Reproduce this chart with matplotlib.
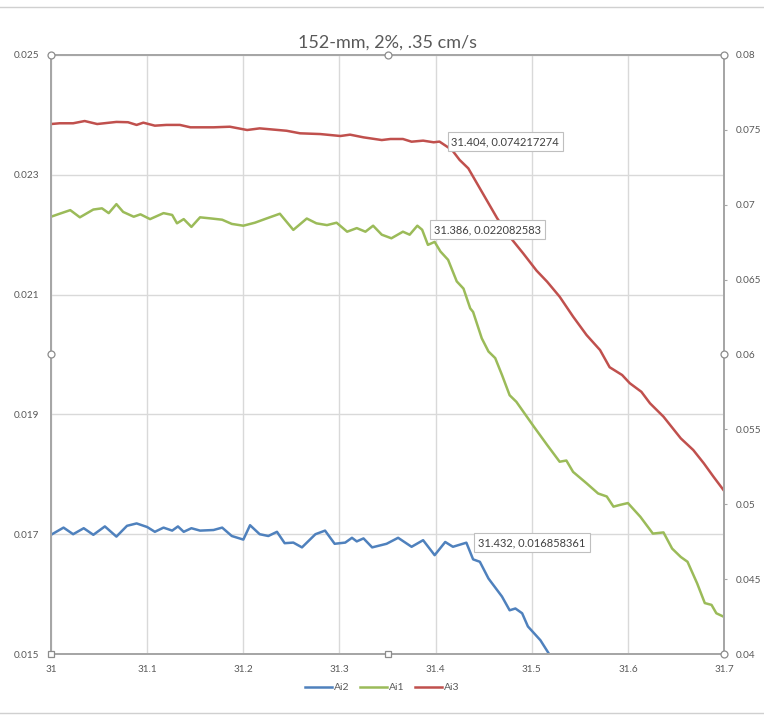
"""Señales Ai1/Ai2/Ai3 frente a posición, ensayo 152-mm, 2 %, .35 cm/s.

Ai1 y Ai2 van al eje izquierdo; Ai3 al eje derecho. Estilo de gráfico de Excel.
"""

import matplotlib

matplotlib.use("Agg")
import matplotlib.pyplot as plt
from matplotlib.lines import Line2D

plt.rcParams["font.family"] = ["Lato", "DejaVu Sans"]

# --- datos -------------------------------------------------------------------
ai2_x = [31.000, 31.013, 31.023, 31.034, 31.044, 31.056, 31.068, 31.079, 31.089,
         31.100, 31.108, 31.117, 31.126, 31.132, 31.138, 31.146, 31.155, 31.169,
         31.178, 31.188, 31.200, 31.207, 31.217, 31.226, 31.235, 31.243, 31.252,
         31.261, 31.275, 31.285, 31.295, 31.306, 31.313, 31.318, 31.325, 31.334,
         31.349, 31.361, 31.375, 31.387, 31.399, 31.410, 31.418, 31.432, 31.439,
         31.446, 31.455, 31.469, 31.477, 31.483, 31.490, 31.496, 31.509, 31.520]
ai2_y = [0.01699, 0.01711, 0.01700, 0.01710, 0.01699, 0.01713, 0.01696, 0.01714,
         0.01718, 0.01712, 0.01704, 0.01711, 0.01706, 0.01713, 0.01704, 0.01710,
         0.01706, 0.01707, 0.01711, 0.01697, 0.01691, 0.01715, 0.01700, 0.01697,
         0.01704, 0.01685, 0.01686, 0.01678, 0.01700, 0.01706, 0.01684, 0.01686,
         0.01694, 0.01688, 0.01693, 0.01678, 0.01684, 0.01694, 0.01679, 0.01690,
         0.01665, 0.01687, 0.01679, 0.016858361, 0.01658, 0.01654, 0.01626,
         0.01596, 0.01573, 0.01576, 0.01568, 0.01546, 0.01523, 0.01495]

ai1_x = [31.000, 31.009, 31.020, 31.030, 31.044, 31.053, 31.060, 31.068, 31.075,
         31.086, 31.093, 31.103, 31.117, 31.126, 31.131, 31.138, 31.146, 31.155,
         31.167, 31.178, 31.188, 31.200, 31.212, 31.224, 31.238, 31.252, 31.266,
         31.276, 31.287, 31.297, 31.308, 31.318, 31.327, 31.335, 31.344, 31.354,
         31.366, 31.373, 31.381, 31.386, 31.392, 31.399, 31.405, 31.413, 31.422,
         31.429, 31.436, 31.439, 31.448, 31.455, 31.462, 31.469, 31.477, 31.484,
         31.502, 31.516, 31.529, 31.536, 31.543, 31.557, 31.569, 31.578, 31.585,
         31.592, 31.600, 31.613, 31.626, 31.637, 31.646, 31.655, 31.662, 31.672,
         31.680, 31.687, 31.692, 31.700]
ai1_y = [0.02230, 0.02235, 0.02241, 0.02229, 0.02242, 0.02244, 0.02236, 0.02251,
         0.02238, 0.02230, 0.02234, 0.02226, 0.02236, 0.02233, 0.02219, 0.02226,
         0.02213, 0.02229, 0.02227, 0.02225, 0.02218, 0.02215, 0.02220, 0.02227,
         0.02235, 0.02208, 0.02227, 0.02219, 0.02216, 0.02220, 0.02205, 0.02211,
         0.02205, 0.02215, 0.02200, 0.02194, 0.02205, 0.02200, 0.02215,
         0.022082583, 0.02183, 0.02188, 0.02172, 0.02158, 0.02122, 0.02110,
         0.02077, 0.02071, 0.02027, 0.02005, 0.01994, 0.01966, 0.01932, 0.01921,
         0.01880, 0.01849, 0.01821, 0.01823, 0.01804, 0.01785, 0.01768, 0.01763,
         0.01746, 0.01749, 0.01752, 0.01729, 0.01701, 0.01703, 0.01676, 0.01662,
         0.01654, 0.01618, 0.01585, 0.01582, 0.01568, 0.01562]

ai3_x = [31.000, 31.009, 31.023, 31.035, 31.048, 31.068, 31.080, 31.089, 31.096,
         31.108, 31.120, 31.134, 31.145, 31.169, 31.186, 31.204, 31.217, 31.245,
         31.259, 31.280, 31.301, 31.311, 31.325, 31.344, 31.353, 31.366, 31.375,
         31.387, 31.398, 31.404, 31.417, 31.425, 31.434, 31.443, 31.453, 31.464,
         31.477, 31.491, 31.505, 31.516, 31.529, 31.543, 31.557, 31.571, 31.581,
         31.594, 31.602, 31.614, 31.623, 31.637, 31.655, 31.668, 31.679, 31.689,
         31.700]
ai3_y = [0.07539, 0.07544, 0.07544, 0.07559, 0.07539, 0.07553, 0.07551, 0.07533,
         0.07548, 0.07528, 0.07533, 0.07533, 0.07517, 0.07517, 0.07521, 0.07499,
         0.07510, 0.07494, 0.07477, 0.07472, 0.07459, 0.07468, 0.07450, 0.07432,
         0.07439, 0.07439, 0.07421, 0.07428, 0.07417, 0.074217274, 0.07366,
         0.07299, 0.07243, 0.07143, 0.07032, 0.06910, 0.06787, 0.06676, 0.06560,
         0.06486, 0.06386, 0.06253, 0.06130, 0.06030, 0.05915, 0.05863, 0.05808,
         0.05751, 0.05674, 0.05585, 0.05440, 0.05362, 0.05273, 0.05184, 0.05090]

# puntos con etiqueta de datos (x, y)
punto_ai3 = (31.404, 0.074217274)
punto_ai1 = (31.386, 0.022082583)
punto_ai2 = (31.432, 0.016858361)

x_ticks = [31.0, 31.1, 31.2, 31.3, 31.4, 31.5, 31.6, 31.7]
x_labels = ["31", "31.1", "31.2", "31.3", "31.4", "31.5", "31.6", "31.7"]
izq_ticks = [0.015, 0.017, 0.019, 0.021, 0.023, 0.025]
izq_labels = ["0.015", "0.017", "0.019", "0.021", "0.023", "0.025"]
der_ticks = [0.04, 0.045, 0.05, 0.055, 0.06, 0.065, 0.07, 0.075, 0.08]
der_labels = ["0.04", "0.045", "0.05", "0.055", "0.06", "0.065", "0.07",
              "0.075", "0.08"]

AZUL, VERDE, ROJO = "#4F81BD", "#9BBB59", "#C0504D"
GRIS_TXT, GRIS_EJE, GRIS_REJ = "#595959", "#A6A6A6", "#D9D9D9"

# --- figura ------------------------------------------------------------------
fig = plt.figure(figsize=(7.64, 7.15), dpi=100)
ax = fig.add_axes([0.0668, 0.0853, 0.8809, 0.8378])
ax2 = ax.twinx()

l2, = ax.plot(ai2_x, ai2_y, color=AZUL, lw=1.8, label="Ai2")
l1, = ax.plot(ai1_x, ai1_y, color=VERDE, lw=1.8, label="Ai1")
l3, = ax2.plot(ai3_x, ai3_y, color=ROJO, lw=1.8, label="Ai3")

ax.set_xlim(31.0, 31.7)
ax.set_ylim(0.015, 0.025)
ax2.set_ylim(0.04, 0.08)
ax.set_xticks(x_ticks, x_labels)
ax.set_yticks(izq_ticks, izq_labels)
ax2.set_yticks(der_ticks, der_labels)

ax.grid(True, color=GRIS_REJ, lw=1)
ax.set_axisbelow(True)
for a in (ax, ax2):
    a.tick_params(length=0, labelsize=7.2, colors=GRIS_TXT)
    for s in a.spines.values():
        s.set_color(GRIS_EJE)
        s.set_linewidth(1.3)
ax.tick_params(axis="y", pad=8.5)
ax.tick_params(axis="x", pad=8)
ax2.tick_params(axis="y", pad=6, length=2.5, color=GRIS_EJE)

ax.set_title("152-mm, 2%, .35 cm/s", fontsize=13, color=GRIS_TXT, pad=5)

# etiquetas de datos, siempre encima de las líneas
caja = dict(boxstyle="square,pad=0.35", fc="white", ec="#BFBFBF", lw=0.8)
for (px, py), trans in ((punto_ai3, ax2.transData),
                        (punto_ai1, ax.transData),
                        (punto_ai2, ax.transData)):
    ax2.annotate(f"{px}, {py}", xy=(px, py), xycoords=trans,
                 xytext=(12, 0), textcoords="offset pixels",
                 ha="left", va="center", fontsize=8, color="#404040",
                 bbox=caja, zorder=10)

# tiradores de selección del área de trazado
for hx, hy, m in ((0, 1, "o"), (0.5, 1, "o"), (1, 1, "o"), (0, 0.5, "o"),
                  (1, 0.5, "o"), (0, 0, "s"), (0.5, 0, "s"), (1, 0, "o")):
    ax2.plot(hx, hy, marker=m, ms=5, mfc="white", mec="#8C8C8C", mew=0.9,
             transform=ax.transAxes, clip_on=False, zorder=11)

# borde del área del gráfico
for yb in (0.990, 0.003):
    fig.add_artist(Line2D([0, 1], [yb, yb], transform=fig.transFigure,
                          color="#D0D0D0", lw=1))

fig.legend(handles=[l2, l1, l3], loc="center", bbox_to_anchor=(0.5, 0.038),
           ncol=3, frameon=False, fontsize=7.5, handlelength=2.6,
           columnspacing=1.0, handletextpad=0.2, labelcolor=GRIS_TXT)

fig.savefig("out.png", dpi=100)
